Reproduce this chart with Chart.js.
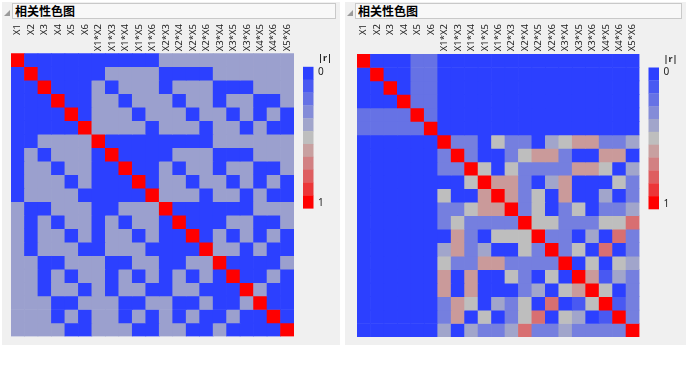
<!DOCTYPE html>
<html>
<head>
<meta charset="utf-8">
<script src="https://cdn.jsdelivr.net/npm/chart.js@4.4.1/dist/chart.umd.min.js"></script>
<style>
  body { margin: 0; background: #fff; width: 700px; height: 371px; position: relative; overflow: hidden; }
  .panel { position: absolute; top: 2px; height: 343px; background: #f0f0f0; }
  .title { position: absolute; left: 10px; top: 1px; right: 4px; height: 14px; border: 1px solid #c9c9c9;
           background: #f8f8f8; font: bold 12px "Noto Sans CJK SC", sans-serif; line-height: 14px;
           padding-left: 2px; color: #000; }
  .tri { position: absolute; left: 2px; top: 8px; width: 0; height: 0;
         border-left: 6px solid transparent; border-bottom: 6px solid #9a9a9a; }
  .box { position: absolute; left: 0; top: 18px; }
</style>
</head>
<body>
<div class="panel" id="p1" style="left:2px; width:338px;">
  <div class="tri"></div><div class="title">相关性色图</div>
  <div class="box" style="width:338px; height:325px;"><canvas id="c1"></canvas></div>
</div>
<div class="panel" id="p2" style="left:345px; width:341px;">
  <div class="tri"></div><div class="title">相关性色图</div>
  <div class="box" style="width:341px; height:325px;"><canvas id="c2"></canvas></div>
</div>
<script>
// model terms (rows and columns of both maps)
const terms = ['X1', 'X2', 'X3', 'X4', 'X5', 'X6',
    'X1*X2', 'X1*X3', 'X1*X4', 'X1*X5', 'X1*X6',
    'X2*X3', 'X2*X4', 'X2*X5', 'X2*X6',
    'X3*X4', 'X3*X5', 'X3*X6', 'X4*X5', 'X4*X6', 'X5*X6'];

// legend steps for |r|
const legendSteps = [0, 0.1, 0.2, 0.3, 0.4, 0.5, 0.6, 0.7, 0.8, 0.9, 1];

// |r|
const leftR = [
    [1,0,0,0,0,0, 0,0,0,0,0, .38,.38,.38,.38, .38,.38,.38, .38,.38, .38],
    [0,1,0,0,0,0, 0,.38,.38,.38,.38, 0,0,0,0, .38,.38,.38, .38,.38, .38],
    [0,0,1,0,0,0, .38,0,.38,.38,.38, 0,.38,.38,.38, 0,0,0, .38,.38, .38],
    [0,0,0,1,0,0, .38,.38,0,.38,.38, .38,0,.38,.38, 0,.38,.38, 0,0, .38],
    [0,0,0,0,1,0, .38,.38,.38,0,.38, .38,.38,0,.38, .38,0,.38, 0,.38, 0],
    [0,0,0,0,0,1, .38,.38,.38,.38,0, .38,.38,.38,0, .38,.38,0, .38,0, 0],
    [0,0,.38,.38,.38,.38, 1,0,0,0,0, 0,0,0,0, .38,.38,.38, .38,.38, .38],
    [0,.38,0,.38,.38,.38, 0,1,0,0,0, 0,.38,.38,.38, 0,0,0, .38,.38, .38],
    [0,.38,.38,0,.38,.38, 0,0,1,0,0, .38,0,.38,.38, 0,.38,.38, 0,0, .38],
    [0,.38,.38,.38,0,.38, 0,0,0,1,0, .38,.38,0,.38, .38,0,.38, 0,.38, 0],
    [0,.38,.38,.38,.38,0, 0,0,0,0,1, .38,.38,.38,0, .38,.38,0, .38,0, 0],
    [.38,0,0,.38,.38,.38, 0,0,.38,.38,.38, 1,0,0,0, 0,0,0, .38,.38, .38],
    [.38,0,.38,0,.38,.38, 0,.38,0,.38,.38, 0,1,0,0, 0,.38,.38, 0,0, .38],
    [.38,0,.38,.38,0,.38, 0,.38,.38,0,.38, 0,0,1,0, .38,0,.38, 0,.38, 0],
    [.38,0,.38,.38,.38,0, 0,.38,.38,.38,0, 0,0,0,1, .38,.38,0, .38,0, 0],
    [.38,.38,0,0,.38,.38, .38,0,0,.38,.38, 0,0,.38,.38, 1,0,0, 0,0, .38],
    [.38,.38,0,.38,0,.38, .38,0,.38,0,.38, 0,.38,0,.38, 0,1,0, 0,.38, 0],
    [.38,.38,0,.38,.38,0, .38,0,.38,.38,0, 0,.38,.38,0, 0,0,1, .38,0, 0],
    [.38,.38,.38,0,0,.38, .38,.38,0,0,.38, .38,0,0,.38, 0,0,.38, 1,0, 0],
    [.38,.38,.38,0,.38,0, .38,.38,0,.38,0, .38,0,.38,0, 0,.38,0, 0,1, 0],
    [.38,.38,.38,.38,0,0, .38,.38,.38,0,0, .38,.38,0,0, .38,0,0, 0,0, 1]
];

// |r|
const rightR = [
    [1,0,0,0,.2,.2, 0,0,0,0,0,0,0,0,0,0,0,0,0,0,0],
    [0,1,0,0,.2,.2, 0,0,0,0,0,0,0,0,0,0,0,0,0,0,0],
    [0,0,1,0,.2,.2, 0,0,0,0,0,0,0,0,0,0,0,0,0,0,0],
    [0,0,0,1,.2,.2, 0,0,0,0,0,0,0,0,0,0,0,0,0,0,0],
    [.2,.2,.2,.2,1,.2, 0,0,0,0,0,0,0,0,0,0,0,0,0,0,0],
    [.2,.2,.2,.2,.2,1, 0,0,0,0,0,0,0,0,0,0,0,0,0,0,0],
    [0,0,0,0,0,0, 1,.25,.25,0,.5,.25,.25,0,.4,.5,.62,.62,.25,.25,.4],
    [0,0,0,0,0,0, .25,1,.25,0,0,.25,.5,.62,.62,.25,0,0,.62,.62,0],
    [0,0,0,0,0,0, .25,.25,1,.5,0,.5,.25,.25,.25,.25,.62,.62,.5,0,.4],
    [0,0,0,0,0,0, 0,0,.5,1,.62,.62,.25,0,.4,.62,0,0,0,.5,.25],
    [0,0,0,0,0,0, .5,0,0,.62,1,.62,.25,.5,0,.62,0,0,.4,0,.25],
    [0,0,0,0,0,0, .25,.25,.5,.62,.62,1,.25,.5,0,.25,.5,0,.25,.25,.4],
    [0,0,0,0,0,0, .25,.5,.25,.25,.25,.25,1,.5,.5,.25,.25,.25,.5,.5,.75],
    [0,0,0,0,0,0, 0,.62,.25,0,.5,.5,.5,1,.25,.25,0,.4,0,.75,.25],
    [0,0,0,0,0,0, .4,.62,.25,.4,0,0,.5,.25,1,.25,.5,0,.75,0,.25],
    [0,0,0,0,0,0, .5,.25,.25,.62,.62,.25,.25,.25,.25,1,0,.5,0,.5,.4],
    [0,0,0,0,0,0, .62,0,.62,0,0,.5,.25,0,.5,0,1,.62,.1,.4,.25],
    [0,0,0,0,0,0, .62,0,.62,0,0,0,.25,.4,0,.5,.62,1,.5,0,.25],
    [0,0,0,0,0,0, .25,.62,.5,0,.4,.25,.5,0,.75,0,.1,.5,1,.1,.25],
    [0,0,0,0,0,0, .25,.62,0,.5,0,.25,.5,.75,0,.5,.4,0,.1,1,.25],
    [0,0,0,0,0,0, .4,0,.4,.25,.25,.4,.75,.25,.25,.4,.25,.25,.25,.25,1]
];

// blue - gray - red scale
const colorStops = [
    [0, [44, 64, 255]],
    [0.5, [190, 190, 190]],
    [0.6, [200, 160, 160]],
    [0.7, [210, 128, 130]],
    [0.8, [222, 94, 96]],
    [0.9, [236, 54, 56]],
    [1, [255, 0, 0]]
];

function rColor(v) {
    for (let i = 1; i < colorStops.length; i++) {
        const [v1, c1] = colorStops[i];
        const [v0, c0] = colorStops[i - 1];
        if (v <= v1) {
            const t = (v - v0) / (v1 - v0);
            const c = c0.map((a, k) => Math.round(a + (c1[k] - a) * t));
            return `rgb(${c[0]},${c[1]},${c[2]})`;
        }
    }
    return 'rgb(255,0,0)';
}

// column labels on top + |r| legend on the right
const mapDecor = {
    id: 'mapDecor',
    afterDraw(chart) {
        const ctx = chart.ctx;
        const xs = chart.scales.x;
        const area = chart.chartArea;
        ctx.save();
        ctx.font = '9.5px "Noto Sans", sans-serif';
        ctx.fillStyle = '#222';
        ctx.textAlign = 'right';
        ctx.textBaseline = 'middle';
        terms.forEach((t, i) => {
            ctx.save();
            ctx.translate(xs.getPixelForValue(i), 4);
            ctx.rotate(-Math.PI / 2);
            ctx.fillText(t, 0, 0);
            ctx.restore();
        });

        const lx = area.right + 9;
        const top = area.top + 13.5;
        const h = 141.5 / legendSteps.length;
        legendSteps.forEach((v, i) => {
            ctx.fillStyle = rColor(v);
            ctx.fillRect(lx, top + i * h, 10.5, h + 0.3);
        });
        ctx.fillStyle = '#222';
        ctx.textAlign = 'left';
        ctx.font = 'bold 9px "Noto Sans", sans-serif';
        ctx.fillText('|r|', lx + 15, top - 8);
        ctx.font = '10px "Noto Sans", sans-serif';
        ctx.fillText('0', lx + 15, top + 5);
        ctx.fillText('1', lx + 15, top + 141.5 - 5);
        ctx.restore();
    }
};

function drawMap(canvasId, rows, pad) {
    const datasets = rows.map((row, r) => ({
        label: terms[r],
        data: row.map(() => 1),
        backgroundColor: row.map(rColor),
        borderWidth: 0,
        barPercentage: 1,
        categoryPercentage: 1
    }));
    new Chart(document.getElementById(canvasId), {
        type: 'bar',
        data: { labels: terms, datasets },
        options: {
            responsive: true,
            maintainAspectRatio: false,
            animation: false,
            layout: { padding: pad },
            scales: {
                x: { stacked: true, display: false },
                y: { stacked: true, display: false, min: 0, max: terms.length, reverse: true }
            },
            plugins: { legend: { display: false }, tooltip: { enabled: false } }
        },
        plugins: [mapDecor]
    });
}

drawMap('c1', leftR, { left: 9, top: 33.3, right: 46, bottom: 8.5 });
drawMap('c2', rightR, { left: 12, top: 34, right: 46.5, bottom: 8 });
</script>
</body>
</html>
